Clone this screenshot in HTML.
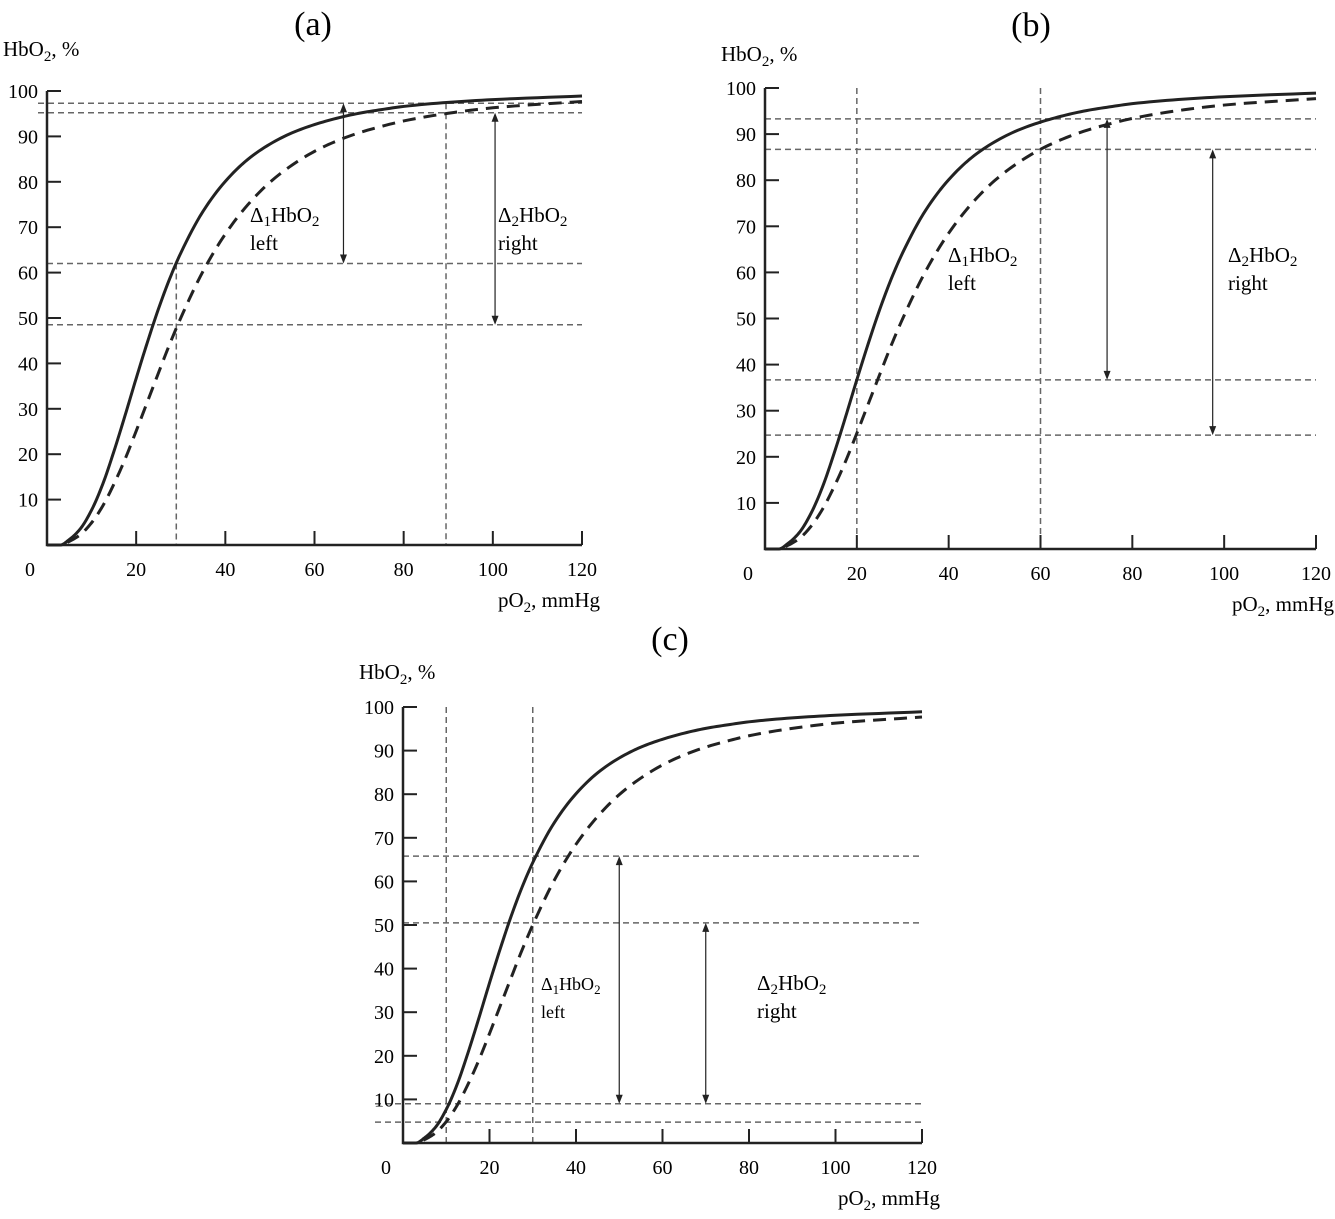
<!DOCTYPE html>
<html><head><meta charset="utf-8"><style>
body{margin:0;background:#fff}
svg{display:block;font-family:"Liberation Serif",serif}
</style></head><body>
<svg id="fig" width="1335" height="1219" viewBox="0 0 1335 1219" xmlns="http://www.w3.org/2000/svg"></svg>
<script>
const pO2 = [0, 3, 5, 7.5, 10, 12.5, 15, 17.5, 20, 22.5, 25, 27.5, 30, 35, 40, 45, 50, 55, 60, 65, 70, 75, 80, 90, 100, 120];
const solidSat = [0, 0, 1.2, 3.6, 7.7, 13.4, 20.6, 28.5, 36.7, 44.6, 52, 58.6, 64.3, 73.5, 80.1, 84.9, 88.3, 90.8, 92.6, 94.0, 95.1, 95.9, 96.6, 97.5, 98.1, 98.9];
const dashedSat = [0, 0, 0.8, 2.3, 4.9, 8.6, 13.4, 18.9, 25.1, 31.5, 37.9, 44.2, 50, 60.3, 68.5, 74.9, 79.9, 83.7, 86.7, 89.0, 90.8, 92.2, 93.4, 95.1, 96.3, 97.7];
const xTicks = [0, 20, 40, 60, 80, 100, 120];
const yTicks = [10, 20, 30, 40, 50, 60, 70, 80, 90, 100];
const hLinesA = [97.3, 95.2, 62, 48.5];
const vLinesA = [29, 89.5];
const arrowsA = [[66.5, 97.3, 62], [100.5, 95.2, 48.5]];
const hLinesB = [93.3, 86.7, 36.7, 24.7];
const vLinesB = [20, 60];
const arrowsB = [[74.5, 93.3, 36.7], [97.5, 86.7, 24.7]];
const hLinesC = [65.8, 50.5, 9, 4.8];
const vLinesC = [10, 30];
const arrowsC = [[50, 65.8, 9], [70, 50.5, 9]];

const NS = "http://www.w3.org/2000/svg";
const svg = document.getElementById('fig');
function mk(tag, attrs, parent, text){
  const e = document.createElementNS(NS, tag);
  for (const k in attrs) e.setAttribute(k, attrs[k]);
  if (text !== undefined) e.textContent = text;
  (parent || svg).appendChild(e);
  return e;
}
// monotone cubic (Fritsch-Carlson) in data space, sampled finely
function monotonePath(xs, ys, X, Y){
  const n = xs.length, d = [], m = [];
  for (let i = 0; i < n - 1; i++) d.push((ys[i+1]-ys[i])/(xs[i+1]-xs[i]));
  m[0] = d[0]; m[n-1] = d[n-2];
  for (let i = 1; i < n - 1; i++){
    if (d[i-1]*d[i] <= 0) m[i] = 0;
    else { const h0 = xs[i]-xs[i-1], h1 = xs[i+1]-xs[i];
      const w1 = 2*h1+h0, w2 = h1+2*h0; m[i] = (w1+w2)/(w1/d[i-1]+w2/d[i]); }
  }
  let path = `M${X(xs[0]).toFixed(2)},${Y(ys[0]).toFixed(2)}`;
  for (let i = 0; i < n - 1; i++){
    const h = xs[i+1]-xs[i];
    for (let k = 1; k <= 8; k++){
      const t = k/8, t2 = t*t, t3 = t2*t;
      const v = (2*t3-3*t2+1)*ys[i] + (t3-2*t2+t)*h*m[i] + (-2*t3+3*t2)*ys[i+1] + (t3-t2)*h*m[i+1];
      path += ` L${X(xs[i]+t*h).toFixed(2)},${Y(v).toFixed(2)}`;
    }
  }
  return path;
}
function panel(cfg){
  const g = mk('g', {});
  
  
  const X = v => cfg.x0 + (cfg.x1 - cfg.x0) * v / 120;
  const Y = v => cfg.y0 + (cfg.y1 - cfg.y0) * v / 100;
  const t = mk('text', {x: cfg.tx, y: cfg.ty, 'font-size': 34, 'text-anchor': 'middle'}, g, '(' + cfg.id + ')');
  
  
  const yt = mk('text', {x: cfg.x0 - 44, y: cfg.yty, 'font-size': 21}, g);
  
  
  yt.innerHTML = 'HbO<tspan font-size="15" dy="5">2</tspan><tspan dy="-5">, %</tspan>';
  const xt = mk('text', {x: cfg.x1 + 18, y: cfg.y0 + 62, 'font-size': 21, 'text-anchor': 'end'}, g);
  
  
  xt.innerHTML = 'pO<tspan font-size="15" dy="5">2</tspan><tspan dy="-5">, mmHg</tspan>';
  cfg.h.forEach((v, i) => {
    const l = mk('line', {x1: cfg.hStart[i] !== undefined ? cfg.hStart[i] : cfg.x0, x2: X(120), y1: Y(v), y2: Y(v), stroke: '#666', 'stroke-width': 1.5, 'stroke-dasharray': '6,4'}, g);
    
    
  });
  cfg.v.forEach((v, i) => {
    const l = mk('line', {x1: X(v), x2: X(v), y1: Y(cfg.vTop[i]), y2: Y(0), stroke: '#666', 'stroke-width': 1.5, 'stroke-dasharray': '6,4'}, g);
    
    
  });
  cfg.arrows.forEach(a => {
    const x = X(a[0]), ya = Y(a[1]), yb = Y(a[2]);
    const l = mk('line', {x1: x, x2: x, y1: ya + 2, y2: yb - 2, stroke: '#222', 'stroke-width': 1.2}, g);
    
    
    mk('path', {d: `M${x},${ya} l-3.5,9 h7z M${x},${yb} l-3.5,-9 h7z`, fill: '#222'}, g);
  });
  const ax = mk('path', {d: `M${cfg.x0},${Y(100)} V${cfg.y0} H${X(120)}`, fill: 'none', stroke: '#222', 'stroke-width': 2.5}, g);
  
  
  yTicks.forEach(v => {
    mk('line', {x1: cfg.x0, x2: cfg.x0 + 14, y1: Y(v), y2: Y(v), stroke: '#222', 'stroke-width': 2}, g);
    const tl = mk('text', {x: cfg.x0 - 9, y: Y(v) + 7, 'font-size': 20, 'text-anchor': 'end'}, g, v);
    
    
  });
  xTicks.forEach(v => {
    if (v > 0) mk('line', {x1: X(v), x2: X(v), y1: cfg.y0, y2: cfg.y0 - 14, stroke: '#222', 'stroke-width': 2}, g);
    const tl = mk('text', {x: v === 0 ? cfg.x0 - 17 : X(v), y: cfg.y0 + 31, 'font-size': 20, 'text-anchor': 'middle'}, g, v);
    
    
  });
  const sp = mk('path', {d: monotonePath(pO2, solidSat, X, Y), fill: 'none', stroke: '#222', 'stroke-width': 3, 'stroke-linejoin': 'round'}, g);
  
  
  const dp = mk('path', {d: monotonePath(pO2, dashedSat, X, Y), fill: 'none', stroke: '#222', 'stroke-width': 3, 'stroke-dasharray': '13,8'}, g);
  
  
  cfg.labels.forEach(lb => {
    const a = mk('text', {x: lb[0], y: lb[1], 'font-size': lb[3]}, g);
    
    
    a.innerHTML = 'Δ<tspan font-size="' + (lb[3]*0.72) + '" dy="4">' + lb[2] + '</tspan><tspan dy="-4">HbO</tspan><tspan font-size="' + (lb[3]*0.72) + '" dy="4">2</tspan>';
    const b = mk('text', {x: lb[0], y: lb[1] + 28, 'font-size': lb[3]}, g, lb[2] === '1' ? 'left' : 'right');
    
    
  });
}
panel({id:'a', x0:47, x1:582, y0:545, y1:91, tx:313, ty:35, yty:56, h:hLinesA, hStart:[38,38], v:vLinesA, vTop:[62,97.3], arrows:arrowsA,
  labels:[[250,222,'1',21],[498,222,'2',21]]});
panel({id:'b', x0:765, x1:1316, y0:549, y1:88, tx:1031, ty:36, yty:61, h:hLinesB, hStart:[], v:vLinesB, vTop:[100,100], arrows:arrowsB,
  labels:[[948,262,'1',21],[1228,262,'2',21]]});
panel({id:'c', x0:403, x1:922, y0:1143, y1:707, tx:670, ty:650, yty:679, h:hLinesC, hStart:[undefined,undefined,375,375], v:vLinesC, vTop:[100,100], arrows:arrowsC,
  labels:[[541,990,'1',18],[757,990,'2',21]]});
</script>
</body></html>
